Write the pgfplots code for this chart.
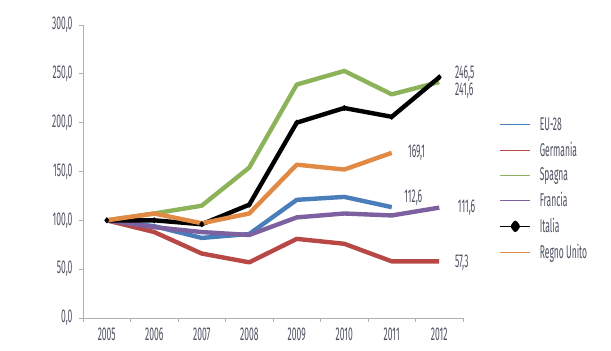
\documentclass[border=0pt]{standalone}
\usepackage{pgfplots}
\pgfplotsset{compat=1.18}
\usepackage{fontspec}
\setmainfont{Fira Sans}[FakeStretch=0.46]
\definecolor{txt}{HTML}{4E5160}
\definecolor{axg}{HTML}{B0B0B0}
\definecolor{cblue}{HTML}{4A7EBB}
\definecolor{cred}{HTML}{B84845}
\definecolor{cgreen}{HTML}{8DB35A}
\definecolor{cpurple}{HTML}{7D60A0}
\definecolor{corange}{HTML}{E08A45}
\newcommand{\tfont}{\fontsize{18.5}{19}\selectfont}
\begin{document}
\begin{tikzpicture}[x=1pt,y=1pt]
\useasboundingbox (0,0) rectangle (611,351);
\begin{axis}[
  at={(83pt,33pt)}, anchor=south west,
  width=380pt, height=293pt, scale only axis,
  xmin=-0.5, xmax=7.5, ymin=0, ymax=300,
  axis x line*=bottom, axis y line*=left,
  axis line style={axg, line width=0.8pt},
  xtick={0,...,7},
  xticklabels={2005,2006,2007,2008,2009,2010,2011,2012},
  major x tick style={draw=none},
  minor xtick={-0.5,0.5,...,7.5},
  minor x tick style={axg, line width=0.8pt},
  ytick={0,50,...,300},
  y tick style={axg, line width=0.8pt},
  tick align=outside,
  major tick length=4pt, minor tick length=4pt,
  /pgf/number format/assume math mode=true,
  yticklabel={\pgfmathprintnumber[fixed,fixed zerofill,precision=1,use comma]{\tick}},
  tick label style={font=\tfont, text=txt},
  xticklabel style={yshift=-2pt},
  yticklabel style={xshift=-3pt},
  clip=false,
  legend style={at={(1.097,0.69)}, anchor=north west, draw=none, fill=none,
    font=\tfont, text=txt, row sep=6pt, inner sep=0pt, outer sep=0pt,
    /tikz/every odd column/.append style={column sep=7pt}},
  legend cell align=left,
  legend image code/.code={\draw[#1, line width=1pt] (0pt,0pt) -- (30pt,0pt);},
  every axis plot/.append style={line width=4.4pt, line join=round},
]
\addplot[cblue] coordinates {(0,100)(1,94)(2,82)(3,86)(4,121)(5,124)(6,113.5)};
\addlegendentry{EU-28}
\addplot[cred] coordinates {(0,100)(1,88)(2,66)(3,57)(4,81)(5,76)(6,58)(7,58)};
\addlegendentry{Germania}
\addplot[cgreen] coordinates {(0,100)(1,107)(2,115)(3,154)(4,239)(5,253)(6,229)(7,241.6)};
\addlegendentry{Spagna}
\addplot[cpurple] coordinates {(0,100)(1,93)(2,88)(3,85)(4,103)(5,107)(6,105)(7,113)};
\addlegendentry{Francia}
\addplot[black, mark=diamond*, mark size=2.5pt, mark options={solid, line width=1pt},
  legend image code/.code={\draw[black, line width=1pt] (0pt,0pt) -- (30pt,0pt);
    \fill[black] (15pt,3.5pt) -- (17.5pt,0pt) -- (15pt,-3.5pt) -- (12.5pt,0pt) -- cycle;}]
  coordinates {(0,100)(1,100)(2,96)(3,116)(4,200)(5,215)(6,206)(7,246.5)};
\addlegendentry{Italia}
\addplot[corange] coordinates {(0,100)(1,107)(2,97)(3,107)(4,157)(5,152)(6,169.1)};
\addlegendentry{Regno Unito}
\begin{scope}[every node/.style={anchor=west, text=txt, font=\tfont, inner sep=0pt}]
\node at (axis cs:7.33,249.7) {246,5};
\node at (axis cs:7.33,232.3) {241,6};
\node at (axis cs:6.34,168.9) {169,1};
\node at (axis cs:6.26,122.8) {112,6};
\node at (axis cs:7.39,112.6) {111,6};
\node at (axis cs:7.33,56.3) {57,3};
\end{scope}
\end{axis}
\end{tikzpicture}
\end{document}
